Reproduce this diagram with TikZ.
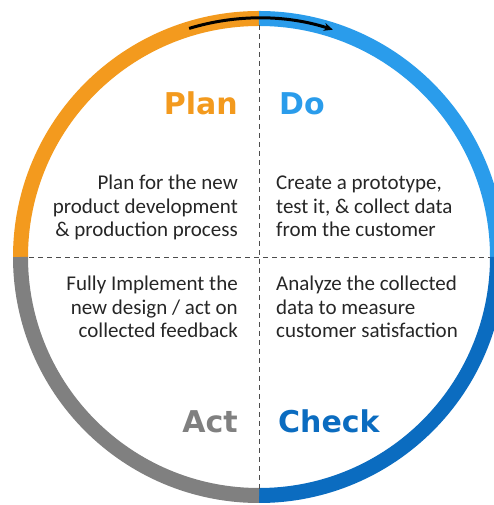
\documentclass[tikz,border=0pt]{standalone}
\usepackage{fontspec}
\setmainfont{Carlito}
\newfontfamily\headfont{DejaVu Sans}
\usetikzlibrary{arrows.meta}

\definecolor{planorange}{HTML}{F39A1E}
\definecolor{doblue}{HTML}{2A9CEB}
\definecolor{checkblue}{HTML}{0B6CC0}
\definecolor{actgray}{HTML}{808080}
\definecolor{bodytext}{HTML}{262626}

\tikzset{
  ring/.style={line width=15pt},
  stage/.style={font=\headfont\bfseries\fontsize{30}{30}\selectfont, inner sep=0pt},
  task/.style={font=\fontsize{21}{23.5}\selectfont, text=bodytext, inner sep=0pt},
  divider/.style={draw=black!70, dash pattern=on 5pt off 4pt, line width=0.8pt}
}

\begin{document}
\begin{tikzpicture}[x=1pt, y=1pt]
  \useasboundingbox (0,0) rectangle (493,505);
  \coordinate (c) at (259,248);

  % the four quarters of the ring
  \draw[ring, planorange] (c) ++(180:238.5) arc[start angle=180, end angle=90, radius=238.5];
  \draw[ring, doblue] (c) ++(90:238.5) arc[start angle=90, end angle=0, radius=238.5];
  \draw[ring, checkblue] (c) ++(0:238.5) arc[start angle=0, end angle=-90, radius=238.5];
  \draw[ring, actgray] (c) ++(-90:238.5) arc[start angle=-90, end angle=-180, radius=238.5];
  \draw[line width=3pt, -{Stealth[length=9pt, width=8pt]}] (c) ++(107:239) arc[start angle=107, end angle=72, radius=239];

  % dashed cross
  \coordinate (top) at (259,480);
  \coordinate (bot) at (259,15);
  \coordinate (lft) at (29,248);
  \coordinate (rgt) at (490,248);
  \draw[divider] (top) -- (bot);
  \draw[divider] (lft) -- (rgt);

  \node[stage, text=planorange, anchor=base east] (plan) at (238,390) {Plan};
  \node[stage, text=doblue, anchor=base west] (do) at (279,390) {Do};
  \node[stage, text=actgray, anchor=base east] (act) at (238,72) {Act};
  \node[stage, text=checkblue, anchor=base west] (check) at (278,72) {Check};

  % base anchor sits on the last line
  \node[task, align=right, anchor=base east] (plantask) at (238,268)
    {Plan for the new\\product development\\\& production process};
  \node[task, align=left, anchor=base west] (dotask) at (276,268)
    {Create a prototype,\\test it, \& collect data\\from the customer};
  \node[task, align=right, anchor=base east] (acttask) at (238,167)
    {Fully Implement the\\new design / act on\\collected feedback};
  \node[task, align=left, anchor=base west] (checktask) at (276,167)
    {Analyze the collected\\data to measure\\customer satisfaction};
\end{tikzpicture}
\end{document}
